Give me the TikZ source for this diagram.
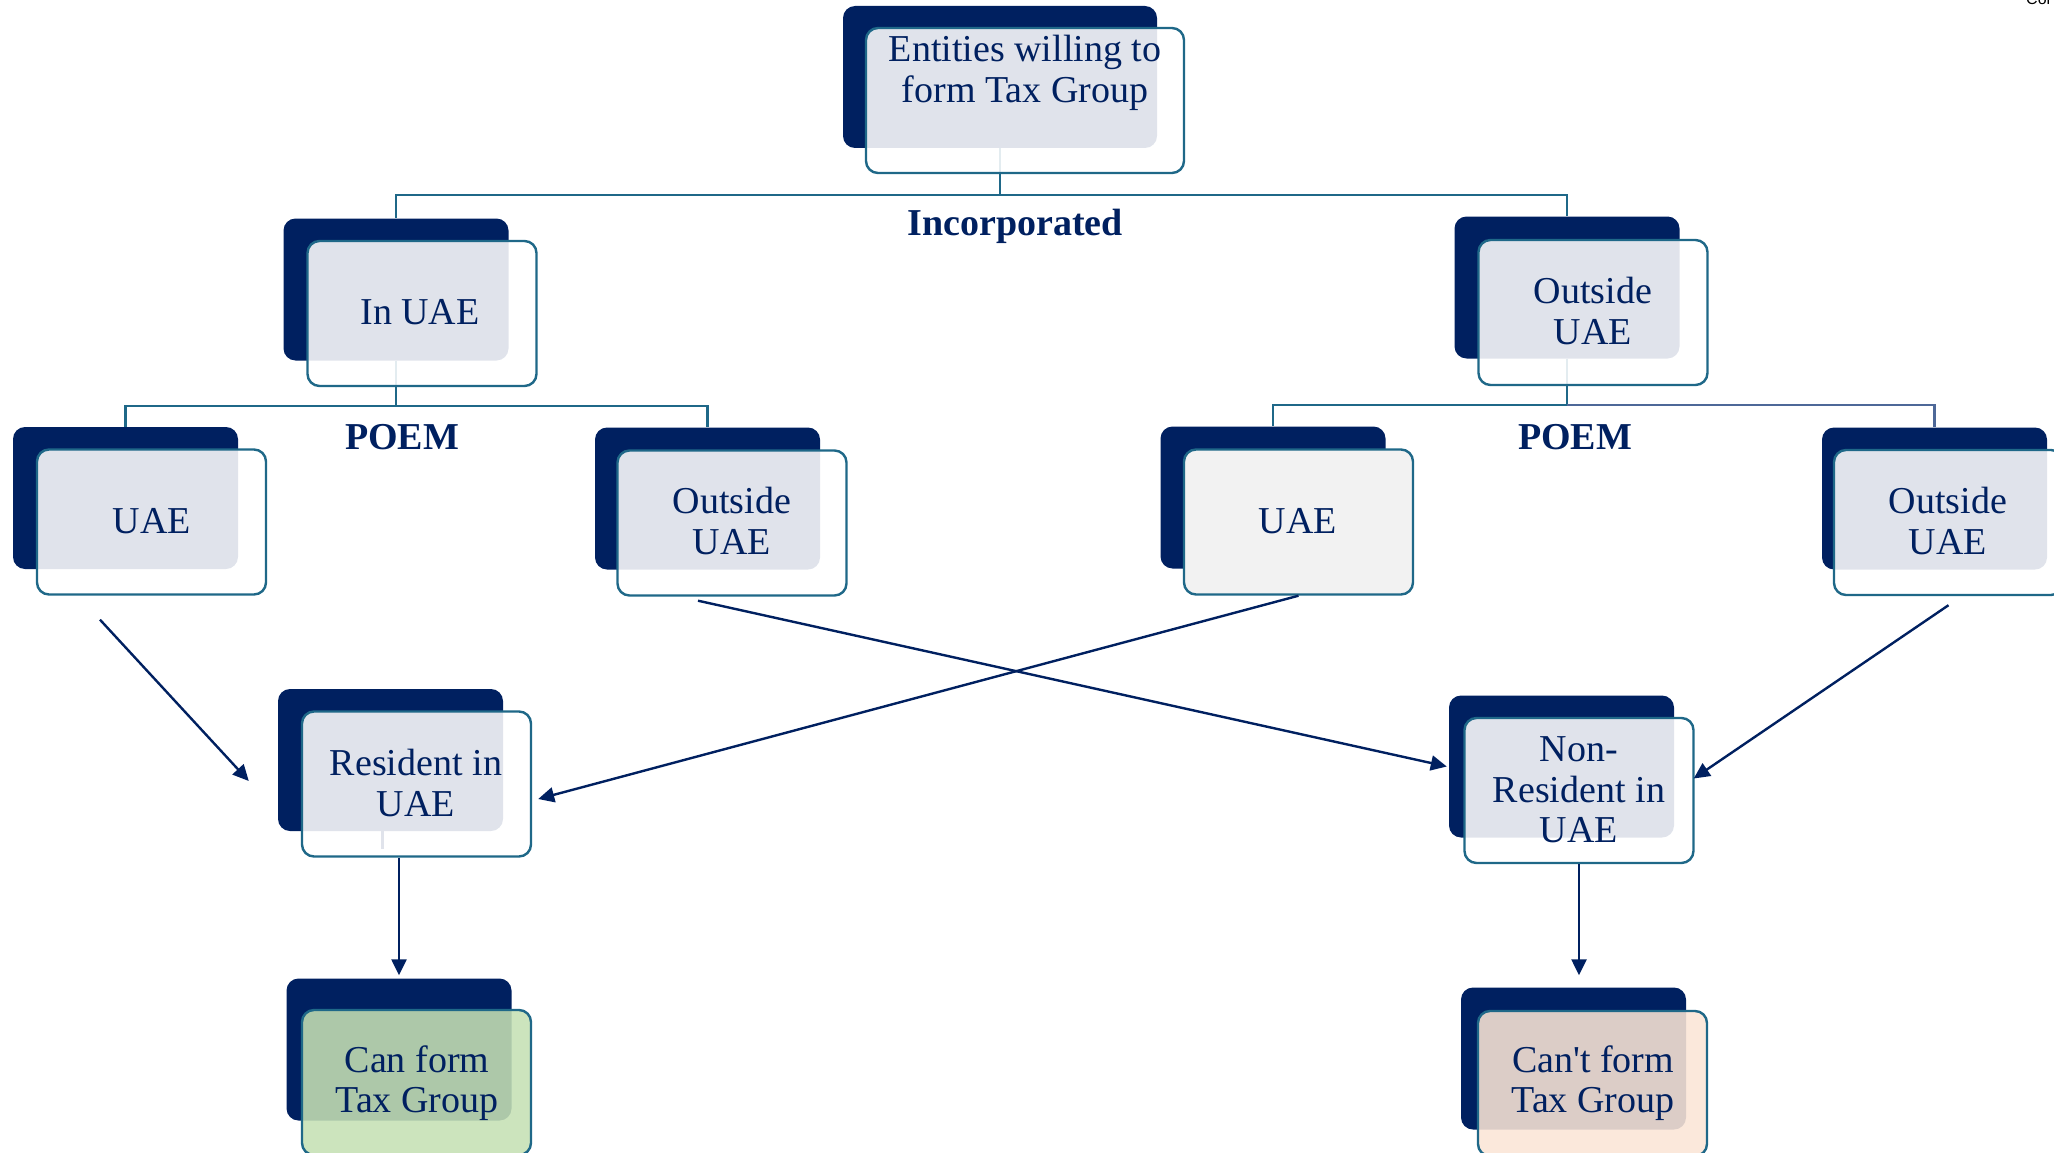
\documentclass[tikz,border=0pt]{standalone}
\usepackage{fontspec}
\setmainfont{Liberation Serif}[Ligatures=TeXOff]
\newfontfamily\cornerfont{Liberation Sans}
\usetikzlibrary{arrows.meta}

\definecolor{navy}{RGB}{0,32,96}
\definecolor{edgeteal}{RGB}{31,104,136}
\definecolor{branchblue}{RGB}{78,104,152}
\definecolor{panel}{RGB}{242,242,242}
\definecolor{okgreen}{HTML}{C5E0B4}
\definecolor{nopeach}{HTML}{FBE5D6}

\pgfdeclarelayer{bg}
\pgfsetlayers{bg,main}

\tikzset{
  back/.style={fill=navy, rounded corners=12pt, minimum width=225pt,
    minimum height=142pt, inner sep=0pt},
  front/.style={draw=edgeteal, line width=2.4pt, fill=white, fill opacity=0.88,
    rounded corners=12pt, minimum width=229pt, minimum height=145pt, inner sep=0pt},
  boxtext/.style={text=navy, font=\fontsize{38}{40.5}\selectfont, align=center,
    inner sep=0pt},
  headtext/.style={text=navy, font=\fontsize{38}{40.5}\selectfont\bfseries,
    inner sep=0pt, anchor=base},
  tree/.style={draw=edgeteal, line width=2.4pt},
  arr/.style={draw=navy, line width=2.4pt, -{Triangle[length=16pt,width=15pt]}},
}

\begin{document}
\begin{tikzpicture}[x=1pt, y=-1pt]
\useasboundingbox (0,0) rectangle (2054,1153);

% --- root ---
\node[back, minimum width=314pt] (top-b) at (1000,77) {};
\node[front, minimum width=318pt] (top) at (1025,100.5) {};
\node[boxtext] (top-t) at (1025,73) {Entities willing to\\form Tax Group};

% --- place of incorporation ---
\node[back] (inuae-b) at (396,289.5) {};
\node[front] (inuae) at (422,313.5) {};
\node[boxtext] (inuae-t) at (420,312) {In UAE};

\node[back] (outtop-b) at (1567,287.5) {};
\node[front] (outtop) at (1593,312.5) {};
\node[boxtext] (outtop-t) at (1593,311) {Outside\\UAE};

% --- place of effective management ---
\node[back] (uael-b) at (125.5,498) {};
\node[front] (uael) at (151.5,522) {};
\node[boxtext] (uael-t) at (152,521) {UAE};

\node[back] (outl-b) at (707.5,498.5) {};
\node[front] (outl) at (732,523) {};
\node[boxtext] (outl-t) at (732,521) {Outside\\UAE};

\node[back] (uaem-b) at (1273,497.5) {};
\node[front, fill=panel, fill opacity=1] (uaem) at (1298.5,522) {};
\node[boxtext] (uaem-t) at (1298,521) {UAE};

\node[back] (outr-b) at (1934.5,498.5) {};
\node[front] (outr) at (1948.5,522.5) {};
\node[boxtext] (outr-t) at (1948,521) {Outside\\UAE};

% --- residency ---
\node[back] (res-b) at (390.5,760) {};
\node[front] (res) at (416.5,784) {};
\node[boxtext] (res-t) at (416,783) {Resident in\\UAE};

\node[back] (nonres-b) at (1561.5,766.5) {};
\node[front] (nonres) at (1579,790.5) {};
\node[boxtext] (nonres-t) at (1579,790) {Non-\\Resident in\\UAE};

% --- outcome ---
\node[back] (can-b) at (399,1049.5) {};
\node[front, fill=okgreen] (can) at (416.5,1082.5) {};
\node[boxtext] (can-t) at (417,1083) {Can form\\Tax Group};

\node[back] (cant-b) at (1573.5,1058.5) {};
\node[front, fill=nopeach] (cant) at (1592.5,1083.5) {};
\node[boxtext] (cant-t) at (1593,1083) {Can't form\\Tax Group};

% --- branch labels ---
\node[headtext] (inc) at (1015,235) {Incorporated};
\node[headtext] (poem-l) at (402,449) {POEM};
\node[headtext] (poem-r) at (1575,449) {POEM};

% --- tree connectors, kept under the boxes ---
\begin{pgfonlayer}{bg}
  \draw[tree] (top-b.south) -- ++(0,47) -| (inuae-b.north);
  \draw[tree] (top-b.south) ++(0,47) -| (outtop-b.north);
  \draw[tree] (inuae-b.south) -- ++(0,45) -| (uael-b.north);
  \draw[tree] (inuae-b.south) ++(0,45) -| (outl-b.north);
  \draw[tree] (outtop-b.south) -- ++(0,46) -| (uaem-b.north);
  \draw[tree, draw=branchblue] (outtop-b.south) ++(0,46) -| (outr-b.north);
  \draw[tree, draw=navy] ([shift={(-8,0)}]res-b.south) -- ++(0,18);
\end{pgfonlayer}

% --- residency arrows ---
\draw[arr] ([shift={(-51.5,24)}]uael.south) -- ([shift={(-29,21)}]res-b.west);
\draw[arr] ([shift={(-34,4)}]outl.south) -- ([shift={(-2,0)}]nonres-b.west);
\draw[arr] (uaem.south) -- ([shift={(6,15)}]res.east);
\draw[arr] ([shift={(0,9)}]outr.south) -- ([shift={(-1,-12)}]nonres.east);

% --- outcome arrows ---
\coordinate (can-in) at ([shift={(0,-3)}]can-b.north);
\coordinate (cant-in) at ([shift={(0,-12)}]cant-b.north);
\draw[arr] (res.south -| can-in) -- (can-in);
\draw[arr] (nonres.south) -- (nonres.south |- cant-in);

% --- clipped caption at the corner ---
\node[anchor=base west, inner sep=0pt, font=\cornerfont\fontsize{16}{16}\selectfont]
  (corner) at (2026,5) {Col};
\end{tikzpicture}
\end{document}
